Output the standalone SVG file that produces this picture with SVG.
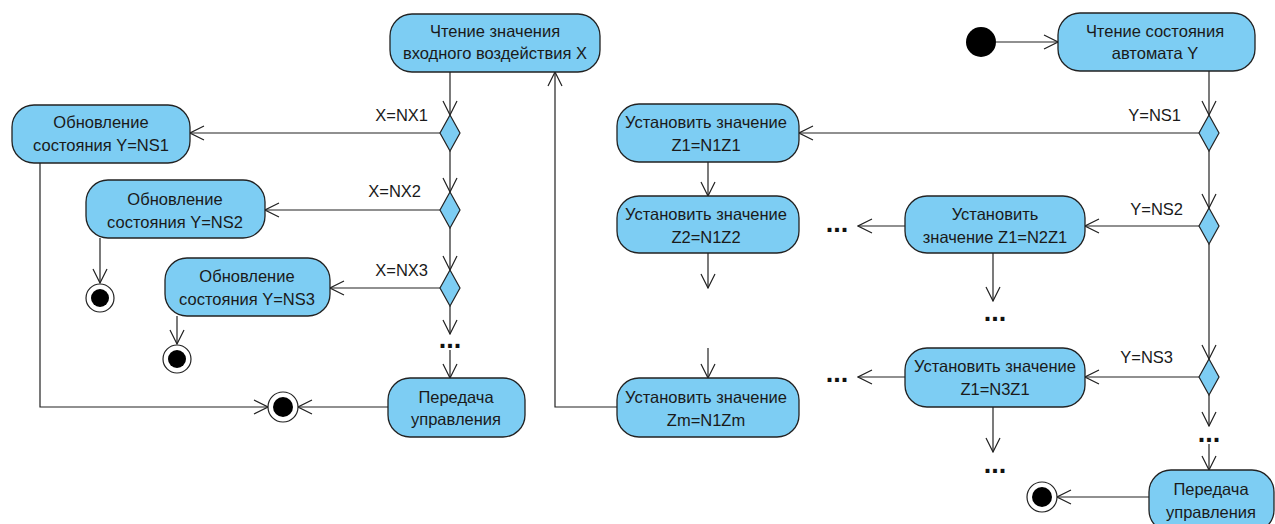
<svg xmlns="http://www.w3.org/2000/svg" width="1275" height="524" viewBox="0 0 1275 524">
  <style>
    .act { fill: #7dcdf3; stroke: #222; stroke-width: 1.3; }
    .dec { fill: #7dcdf3; stroke: #222; stroke-width: 1.2; }
    .lbl { font-family: "Liberation Sans", Arial, sans-serif; font-size: 16.5px; fill: #1a1a1a; text-anchor: middle; }
    .grd { font-family: "Liberation Sans", Arial, sans-serif; font-size: 16.5px; fill: #1a1a1a; text-anchor: end; }
    .dots { font-family: "Liberation Sans", Arial, sans-serif; font-size: 27px; font-weight: bold; fill: #111; text-anchor: middle; }
    .flow { fill: none; stroke: #222; stroke-width: 1.2; }
    .arr { marker-end: url(#open); }
  </style>
  <defs>
    <marker id="open" viewBox="0 0 16 16" refX="15" refY="8" markerWidth="16" markerHeight="16" markerUnits="userSpaceOnUse" orient="auto">
      <path d="M1,1 L15,8 L1,15" fill="none" stroke="#222" stroke-width="1.2"/>
    </marker>
  </defs>
  <rect width="1275" height="524" fill="#ffffff"/>

  <!-- connectors -->
  <g id="connectors">
    <!-- left chain: input reading and state updates -->
    <line class="flow arr" x1="450" y1="72" x2="450" y2="115"/>
    <line class="flow arr" x1="440" y1="133" x2="190" y2="133"/>
    <polyline class="flow arr" points="40,163 40,407 268,407"/>
    <line class="flow arr" x1="450" y1="151" x2="450" y2="192"/>
    <line class="flow arr" x1="440" y1="210" x2="265" y2="210"/>
    <line class="flow arr" x1="100" y1="238" x2="100" y2="283"/>
    <line class="flow arr" x1="450" y1="228" x2="450" y2="270"/>
    <line class="flow arr" x1="440" y1="288" x2="330" y2="288"/>
    <line class="flow arr" x1="177" y1="316" x2="177" y2="344"/>
    <line class="flow arr" x1="450" y1="306" x2="450" y2="334"/>
    <line class="flow arr" x1="450" y1="350" x2="450" y2="378"/>
    <line class="flow arr" x1="388" y1="407" x2="298" y2="407"/>

    <!-- loop back to input reading -->
    <polyline class="flow arr" points="617,407 555,407 555,72"/>

    <!-- middle column: output assignments -->
    <line class="flow arr" x1="708" y1="162" x2="708" y2="196"/>
    <line class="flow arr" x1="708" y1="253" x2="708" y2="288"/>
    <line class="flow arr" x1="708" y1="348" x2="708" y2="378"/>
    <line class="flow arr" x1="905" y1="226" x2="858" y2="226"/>
    <line class="flow arr" x1="993" y1="253" x2="993" y2="301"/>
    <line class="flow arr" x1="905" y1="377" x2="858" y2="377"/>
    <line class="flow arr" x1="993" y1="407" x2="993" y2="452"/>

    <!-- right chain: automaton state -->
    <line class="flow arr" x1="996" y1="42" x2="1058" y2="42"/>
    <line class="flow arr" x1="1209" y1="71" x2="1209" y2="115"/>
    <line class="flow arr" x1="1199" y1="133" x2="799" y2="133"/>
    <line class="flow arr" x1="1209" y1="151" x2="1209" y2="208"/>
    <line class="flow arr" x1="1199" y1="226" x2="1085" y2="226"/>
    <line class="flow arr" x1="1209" y1="244" x2="1209" y2="359"/>
    <line class="flow arr" x1="1199" y1="377" x2="1085" y2="377"/>
    <line class="flow arr" x1="1209" y1="395" x2="1209" y2="426"/>
    <line class="flow arr" x1="1209" y1="444" x2="1209" y2="470"/>
    <line class="flow arr" x1="1149" y1="497" x2="1057" y2="497"/>

    <!-- guard labels -->
    <text class="grd" x="428" y="121">X=NX1</text>
    <text class="grd" x="421" y="197">X=NX2</text>
    <text class="grd" x="428" y="276">X=NX3</text>
    <text class="grd" x="1181" y="121">Y=NS1</text>
    <text class="grd" x="1183" y="215">Y=NS2</text>
    <text class="grd" x="1173" y="363">Y=NS3</text>

    <!-- continuation marks -->
    <text class="dots" x="450" y="348">...</text>
    <text class="dots" x="837" y="232">...</text>
    <text class="dots" x="995" y="321">...</text>
    <text class="dots" x="837" y="382">...</text>
    <text class="dots" x="995" y="473">...</text>
    <text class="dots" x="1209" y="442">...</text>
  </g>

  <!-- actions -->
  <g id="read-x">
    <rect class="act" x="390" y="14" width="210" height="58" rx="22"/>
    <text class="lbl" x="495" y="37">Чтение значения</text>
    <text class="lbl" x="495" y="59">входного воздействия X</text>
  </g>
  <g id="update-ns1">
    <rect class="act" x="12" y="105" width="178" height="58" rx="22"/>
    <text class="lbl" x="101" y="128">Обновление</text>
    <text class="lbl" x="101" y="151">состояния Y=NS1</text>
  </g>
  <g id="update-ns2">
    <rect class="act" x="86" y="180" width="179" height="58" rx="22"/>
    <text class="lbl" x="175" y="205">Обновление</text>
    <text class="lbl" x="175" y="228">состояния Y=NS2</text>
  </g>
  <g id="update-ns3">
    <rect class="act" x="165" y="258" width="165" height="58" rx="22"/>
    <text class="lbl" x="247" y="282">Обновление</text>
    <text class="lbl" x="247" y="305">состояния Y=NS3</text>
  </g>
  <g id="pass-control-left">
    <rect class="act" x="388" y="378" width="137" height="59" rx="22"/>
    <text class="lbl" x="456" y="403">Передача</text>
    <text class="lbl" x="456" y="425">управления</text>
  </g>
  <g id="set-z1-n1">
    <rect class="act" x="617" y="104" width="182" height="58" rx="22"/>
    <text class="lbl" x="706" y="128">Установить значение</text>
    <text class="lbl" x="706" y="151">Z1=N1Z1</text>
  </g>
  <g id="set-z2-n1">
    <rect class="act" x="617" y="196" width="182" height="57" rx="22"/>
    <text class="lbl" x="706" y="220">Установить значение</text>
    <text class="lbl" x="706" y="243">Z2=N1Z2</text>
  </g>
  <g id="set-zm-n1">
    <rect class="act" x="617" y="378" width="182" height="59" rx="22"/>
    <text class="lbl" x="706" y="403">Установить значение</text>
    <text class="lbl" x="706" y="426">Zm=N1Zm</text>
  </g>
  <g id="set-z1-n2">
    <rect class="act" x="905" y="196" width="180" height="57" rx="22"/>
    <text class="lbl" x="995" y="220">Установить</text>
    <text class="lbl" x="995" y="243">значение Z1=N2Z1</text>
  </g>
  <g id="set-z1-n3">
    <rect class="act" x="905" y="348" width="180" height="59" rx="22"/>
    <text class="lbl" x="995" y="372">Установить значение</text>
    <text class="lbl" x="995" y="395">Z1=N3Z1</text>
  </g>
  <g id="read-y">
    <rect class="act" x="1058" y="13" width="197" height="58" rx="22"/>
    <text class="lbl" x="1155" y="37">Чтение состояния</text>
    <text class="lbl" x="1155" y="59">автомата Y</text>
  </g>
  <g id="pass-control-right">
    <rect class="act" x="1149" y="470" width="125" height="62" rx="22"/>
    <text class="lbl" x="1211" y="495">Передача</text>
    <text class="lbl" x="1211" y="518">управления</text>
  </g>

  <!-- decisions -->
  <g id="dec-x1"><polygon class="dec" points="450,115 460,133 450,151 440,133"/></g>
  <g id="dec-x2"><polygon class="dec" points="450,192 460,210 450,228 440,210"/></g>
  <g id="dec-x3"><polygon class="dec" points="450,270 460,288 450,306 440,288"/></g>
  <g id="dec-y1"><polygon class="dec" points="1209,115 1219,133 1209,151 1199,133"/></g>
  <g id="dec-y2"><polygon class="dec" points="1209,208 1219,226 1209,244 1199,226"/></g>
  <g id="dec-y3"><polygon class="dec" points="1209,359 1219,377 1209,395 1199,377"/></g>

  <!-- initial and final nodes -->
  <g id="start"><circle cx="981" cy="42" r="15" fill="#000"/></g>
  <g id="end-main">
    <circle cx="283" cy="407" r="15" fill="#fff" stroke="#222" stroke-width="1.2"/>
    <circle cx="283" cy="407" r="10" fill="#000"/>
  </g>
  <g id="end-ns2">
    <circle cx="100" cy="298" r="14" fill="#fff" stroke="#222" stroke-width="1.2"/>
    <circle cx="100" cy="298" r="9" fill="#000"/>
  </g>
  <g id="end-ns3">
    <circle cx="177" cy="359" r="14" fill="#fff" stroke="#222" stroke-width="1.2"/>
    <circle cx="177" cy="359" r="9" fill="#000"/>
  </g>
  <g id="end-right">
    <circle cx="1042" cy="497" r="15" fill="#fff" stroke="#222" stroke-width="1.2"/>
    <circle cx="1042" cy="497" r="10" fill="#000"/>
  </g>
</svg>
